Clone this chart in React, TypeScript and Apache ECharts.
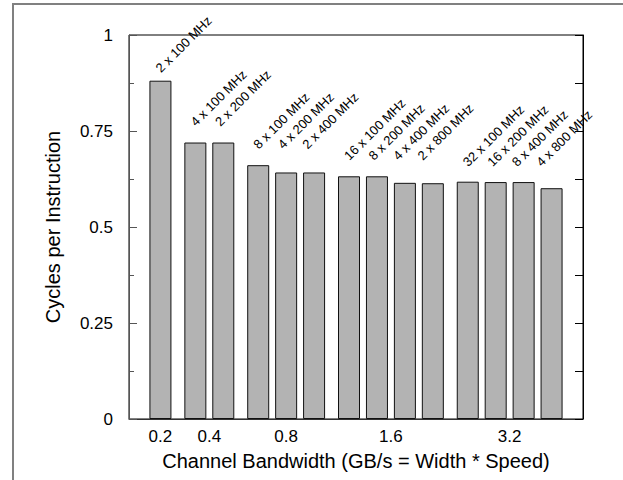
import React, { useEffect, useRef } from "react";
import * as echarts from "echarts";

// ---- data ----
const bandwidthGroups = ["0.2", "0.4", "0.8", "1.6", "3.2"];
const groupSizes = [1, 2, 3, 4, 4];
const configLabels = [
  "2 x 100 MHz",
  "4 x 100 MHz",
  "2 x 200 MHz",
  "8 x 100 MHz",
  "4 x 200 MHz",
  "2 x 400 MHz",
  "16 x 100 MHz",
  "8 x 200 MHz",
  "4 x 400 MHz",
  "2 x 800 MHz",
  "32 x 100 MHz",
  "16 x 200 MHz",
  "8 x 400 MHz",
  "4 x 800 MHz",
];
const cpiValues = [
  0.881, 0.72, 0.72, 0.661, 0.642, 0.642, 0.632, 0.632, 0.615, 0.614, 0.618,
  0.617, 0.617, 0.601,
];
const yTickValues = [0, 0.25, 0.5, 0.75, 1];

// ---- layout / style ----
const W = 623;
const H = 480;
const GRID = { left: 129, right: 40, top: 35, bottom: 61 };
const Y_MIN = 0;
const Y_MAX = 1;
const LEAD_SLOTS = 4; // empty slots before first bar
const SLOTS_PER_BAR = 4; // bar pitch in slots
const SLOTS_GROUP_GAP = 1; // extra slots between groups
const TOTAL_SLOTS = 65;
const labelLift = [8, 16, 16, 16, 15]; // px above tallest bar of group
const labelStepShift = -3.5; // px per bar within group
const FONT = "Liberation Sans, Arial, Helvetica, sans-serif";

export default function App() {
  const ref = useRef<HTMLDivElement>(null);

  useEffect(() => {
    if (!ref.current) return;
    const chart = echarts.init(ref.current, undefined, { renderer: "svg" });

    const slotNames: string[] = [];
    for (let i = 0; i < TOTAL_SLOTS; i++) slotNames.push(String(i));
    const barData: any[] = new Array(TOTAL_SLOTS).fill("-");
    const tickLabelAt: Record<number, string> = {};
    const labelPlan: { slot: number; top: number; g: number; k: number; text: string }[] = [];

    let barIdx = 0;
    groupSizes.forEach((size, g) => {
      const groupVals = cpiValues.slice(barIdx, barIdx + size);
      const groupTop = Math.max(...groupVals);
      const firstSlot = LEAD_SLOTS + SLOTS_PER_BAR * barIdx + SLOTS_GROUP_GAP * g;
      const lastSlot =
        LEAD_SLOTS + SLOTS_PER_BAR * (barIdx + size - 1) + SLOTS_GROUP_GAP * g;
      tickLabelAt[(firstSlot + lastSlot) / 2] = bandwidthGroups[g];
      for (let k = 0; k < size; k++) {
        const i = barIdx + k;
        const slot = LEAD_SLOTS + SLOTS_PER_BAR * i + SLOTS_GROUP_GAP * g;
        barData[slot] = cpiValues[i];
        labelPlan.push({ slot, top: groupTop, g, k, text: configLabels[i] });
      }
      barIdx += size;
    });

    const option: any = {
      animation: false,
      backgroundColor: "#fff",
      textStyle: { fontFamily: FONT },
      grid: {
        left: GRID.left,
        right: GRID.right,
        top: GRID.top,
        bottom: GRID.bottom,
        show: true,
        borderColor: "#000",
        borderWidth: 1,
        backgroundColor: "transparent",
      },
      xAxis: {
        type: "category",
        data: slotNames,
        boundaryGap: true,
        axisLine: { show: true, lineStyle: { color: "#333", width: 1 } },
        axisTick: { show: false },
        splitLine: { show: false },
        axisLabel: {
          interval: 0,
          margin: 9,
          fontSize: 17,
          color: "#000",
          fontFamily: FONT,
          formatter: (_v: string, idx: number) => tickLabelAt[idx] ?? "",
        },
        name: "Channel Bandwidth (GB/s = Width * Speed)",
        nameLocation: "middle",
        nameGap: 32,
        nameTextStyle: { fontSize: 20, color: "#000", fontFamily: FONT },
      },
      yAxis: [
        {
          type: "value",
          min: Y_MIN,
          max: Y_MAX,
          interval: 0.25,
          position: "left",
          axisLine: { show: true, lineStyle: { color: "#555", width: 1 } },
          axisTick: {
            show: true,
            inside: true,
            length: 8,
            lineStyle: { color: "#555" },
          },
          minorTick: {
            show: true,
            splitNumber: 2,
            length: 5,
            lineStyle: { color: "#555" },
          },
          splitLine: { show: false },
          minorSplitLine: { show: false },
          axisLabel: {
            margin: 16,
            fontSize: 17,
            color: "#000",
            fontFamily: FONT,
            formatter: (v: number) =>
              yTickValues.includes(v) ? String(v) : "",
          },
          name: "Cycles per Instruction",
          nameLocation: "middle",
          nameGap: 66,
          nameTextStyle: { fontSize: 20, color: "#000", fontFamily: FONT },
        },
        {
          type: "value",
          min: Y_MIN,
          max: Y_MAX,
          interval: 0.125,
          position: "right",
          axisLine: { show: true, lineStyle: { color: "#000", width: 1 } },
          axisTick: {
            show: true,
            inside: true,
            length: 8,
            lineStyle: { color: "#000" },
          },
          axisLabel: { show: false },
          splitLine: { show: false },
        },
      ],
      series: [
        {
          type: "bar",
          yAxisIndex: 0,
          data: barData,
          barWidth: 22,
          itemStyle: { color: "#b3b3b3", borderColor: "#111", borderWidth: 1 },
        },
      ],
    };

    chart.setOption(option);

    // rotated configuration labels, positioned through the chart's own scales
    const labelEls = labelPlan.map((p) => {
      const [px, py] = chart.convertToPixel(
        { xAxisIndex: 0, yAxisIndex: 0 },
        [p.slot, p.top]
      ) as number[];
      return {
        type: "text",
        silent: true,
        x: px + labelStepShift * p.k + 2,
        y: py - labelLift[p.g] + 2,
        rotation: Math.PI / 4,
        style: {
          text: p.text,
          fontSize: 13,
          fontFamily: FONT,
          fill: "#000",
          align: "left",
          verticalAlign: "bottom",
        },
      };
    });

    chart.setOption({
      graphic: [
        {
          type: "rect",
          silent: true,
          shape: { x: 13, y: 4, width: 800, height: 700 },
          style: { fill: "none", stroke: "#808080", lineWidth: 2 },
        },
        ...labelEls,
      ],
    });

    return () => {
      chart.dispose();
    };
  }, []);

  return (
    <div
      ref={ref}
      style={{
        position: "fixed",
        left: 0,
        top: 0,
        width: W,
        height: H,
        background: "#fff",
      }}
    />
  );
}
